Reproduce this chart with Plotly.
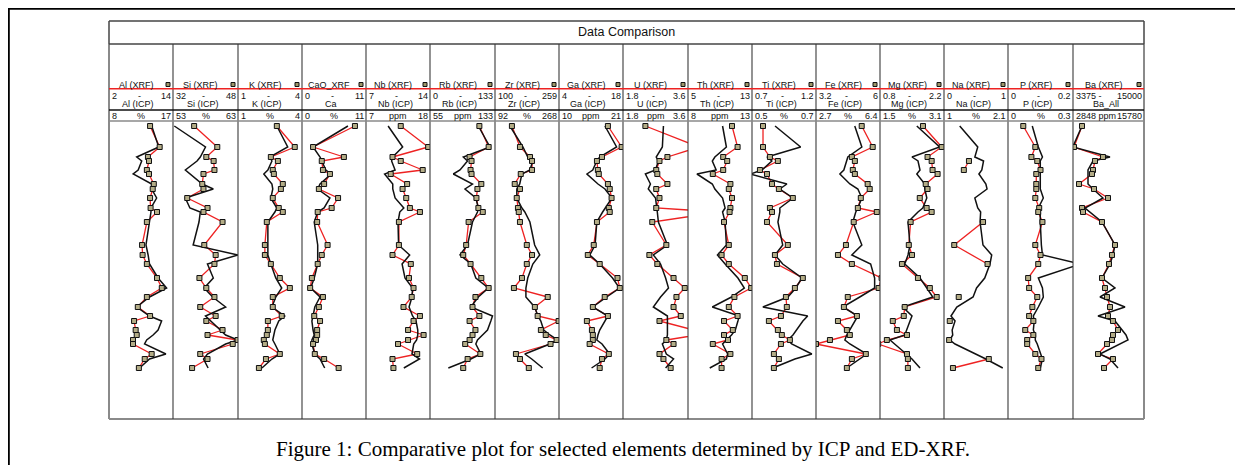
import plotly.graph_objects as go

# page body has an 8px margin; the figure is placed at (8, 8) in the window
OFF = 8
FW, FH = 1227, 457

# ---------------- data ----------------
depth = [5, 26, 36, 40, 49, 53, 63, 68, 77, 87, 91, 101, 124, 134, 143, 157, 167,
         176, 186, 195, 200, 209, 214, 219, 223, 233, 238, 247]

xrf_labels = ["Al (XRF)", "Si (XRF)", "K (XRF)", "CaO_XRF", "Nb (XRF)", "Rb (XRF)", "Zr (XRF)", "Ga (XRF)",
              "U (XRF)", "Th (XRF)", "Ti (XRF)", "Fe (XRF)", "Mg (XRF)", "Na (XRF)", "P (XRF)", "Ba (XRF)"]
icp_labels = ["Al (ICP)", "Si (ICP)", "K (ICP)", "Ca", "Nb (ICP)", "Rb (ICP)", "Zr (ICP)", "Ga (ICP)",
              "U (ICP)", "Th (ICP)", "Ti (ICP)", "Fe (ICP)", "Mg (ICP)", "Na (ICP)", "P (ICP)", "Ba_All"]
units = ["%", "%", "%", "%", "ppm", "ppm", "%", "ppm", "ppm", "ppm", "%", "%", "%", "%", "%", "ppm"]
xrf_min = [2, 32, 1, 0, 7, 0, 100, 4, 1.8, 5, 0.7, 3.2, 0.8, 0, 0, 3375]
xrf_max = [14, 48, 4, 11, 14, 133, 259, 18, 3.6, 13, 1.2, 6, 2.2, 1, 0.2, 15000]
icp_min = [8, 53, 1, 0, 7, 55, 92, 10, 1.8, 8, 0.5, 2.7, 1.5, 1, 0, 2848]
icp_max = [17, 63, 4, 11, 18, 133, 268, 21, 3.6, 13, 0.7, 6.4, 3.1, 2.1, 0.3, 15780]
xrf_min_txt = ["2", "32", "1", "0", "7", "0", "100", "4", "1.8", "5", "0.7", "3.2", "0.8", "0", "0", "3375 -"]
xrf_max_txt = ["14", "48", "4", "11", "14", "133", "259", "18", "3.6", "13", "1.2", "6", "2.2", "1", "0.2", "15000"]
icp_min_txt = ["8", "53", "1", "0", "7", "55", "92", "10", "1.8", "8", "0.5", "2.7", "1.5", "1", "0", "2848 ppm"]
icp_max_txt = ["17", "63", "4", "11", "18", "133", "268", "21", "3.6", "13", "0.7", "6.4", "3.1", "2.1", "0.3", "15780"]

al_xrf = [9.7, 11.5, 9.3, 9.5, 9.1, 9.5, 10.4, 10.2, 9.7, 9.8, 11.0, 9.1, 8.2, 8.3, 9.1, 11.0, 11.9, 9.1, 7.4, 9.7, 6.7, 7.0, 7.2, 6.5, 6.5, 10.0, 8.7, 7.6]
al_icp = [14.0, 15.0, 11.9, 12.6, 12.1, 11.4, 14.0, 14.0, 14.7, 13.9, 13.9, 13.7, 13.2, 13.5, 13.7, 14.9, 16.1, 13.7, 11.9, 13.7, 15.4, 14.9, 14.2, 13.3, 13.0, 16.0, 13.7, 12.3]
si_xrf = [37.2, 42.9, 40.2, 42.0, 42.2, 39.5, 39.2, 39.5, 35.5, 40.5, 39.5, 44.2, 39.7, 42.5, 42.2, 38.5, 40.2, 42.2, 38.7, 42.5, 40.2, 44.2, 40.5, 47.9, 46.7, 38.7, 40.5, 36.7]
si_icp = [53.2, 58.0, 57.2, 56.7, 54.9, 55.6, 57.5, 59.2, 54.9, 55.6, 57.2, 57.0, 56.1, 63.0, 58.3, 59.2, 57.8, 59.1, 61.1, 58.0, 58.8, 60.3, 61.1, 63.0, 61.1, 58.3, 57.7, 58.4]
k_xrf = [2.82, 3.66, 2.54, 2.87, 2.63, 2.68, 3.10, 3.01, 2.63, 2.91, 3.10, 2.35, 2.26, 2.26, 2.54, 2.96, 3.43, 2.63, 2.63, 3.05, 2.40, 2.40, 2.35, 2.21, 2.26, 2.96, 2.31, 1.98]
k_icp = [2.82, 3.33, 2.49, 2.59, 2.40, 2.21, 2.59, 2.63, 2.54, 2.82, 2.73, 2.40, 2.40, 2.40, 2.54, 2.77, 3.05, 2.77, 2.59, 3.19, 2.91, 2.73, 2.68, 2.63, 2.73, 2.96, 2.59, 2.12]
cao_xrf = [9.1, 1.9, 7.2, 3.4, 3.6, 4.8, 3.8, 2.9, 6.2, 5.1, 2.7, 2.6, 4.4, 3.4, 2.7, 1.7, 1.4, 3.6, 2.9, 2.1, 3.1, 2.6, 2.6, 2.4, 1.9, 2.2, 3.8, 6.3]
ca_icp = [7.9, 1.9, 3.1, 3.4, 4.1, 5.0, 3.1, 2.7, 4.8, 3.8, 2.7, 2.1, 2.7, 2.7, 2.7, 2.1, 1.5, 3.1, 2.2, 1.9, 1.7, 1.9, 2.1, 1.7, 1.7, 2.2, 3.1, 3.9]
nb_xrf = [10.8, 13.8, 9.9, 10.8, 13.2, 9.7, 11.5, 11.0, 11.4, 11.8, 12.9, 10.6, 10.6, 9.9, 11.9, 11.7, 12.2, 12.0, 11.1, 12.9, 12.2, 11.6, 13.3, 11.6, 10.5, 12.6, 9.9, 10.0]
nb_icp = [10.8, 13.3, 11.6, 11.4, 12.0, 10.2, 11.6, 11.6, 12.0, 13.5, 12.8, 12.5, 12.6, 14.5, 13.2, 13.7, 15.0, 14.9, 14.4, 15.0, 15.6, 15.9, 15.9, 15.7, 15.2, 14.9, 16.2, 13.5]
rb_xrf = [101, 120, 81, 85, 83, 85, 105, 97, 95, 99, 108, 79, 74, 68, 83, 105, 120, 93, 87, 101, 81, 93, 87, 81, 72, 103, 77, 68]
rb_icp = [113, 127, 95, 100, 91, 83, 106, 97, 110, 113, 112, 106, 100, 91, 104, 110, 125, 113, 104, 130, 128, 124, 118, 112, 110, 116, 104, 77]
zr_xrf = [142, 162, 187, 192, 192, 164, 149, 162, 154, 157, 159, 162, 179, 192, 179, 167, 147, 231, 199, 206, 258, 214, 226, 253, 238, 152, 162, 184]
zr_icp = [133, 169, 182, 196, 188, 166, 160, 152, 152, 166, 174, 188, 201, 215, 196, 182, 177, 177, 201, 210, 218, 226, 243, 264, 243, 174, 193, 223]
ga_xrf = [14.7, 17.7, 13.4, 12.3, 12.5, 12.7, 14.7, 15.1, 15.5, 14.9, 15.1, 12.3, 11.6, 10.3, 12.9, 16.8, 17.3, 14.0, 11.4, 14.7, 10.1, 11.2, 11.4, 11.4, 10.7, 14.9, 13.4, 12.9]
ga_icp = [17.9, 19.9, 17.0, 16.5, 15.8, 14.8, 16.7, 17.9, 19.1, 17.9, 17.5, 16.5, 16.2, 15.3, 17.0, 19.2, 20.4, 18.2, 15.8, 18.4, 17.9, 17.0, 16.7, 16.5, 17.4, 18.7, 17.9, 15.6]
u_xrf = [2.42, 3.9, 3.03, 2.81, 2.72, 2.75, 3.03, 2.72, 2.81, 2.72, 4.5, 2.61, 3.00, 2.53, 2.75, 3.20, 3.51, 3.28, 3.20, 3.40, 2.81, 3.76, 3.85, 3.00, 3.20, 2.81, 2.92, 3.12]
u_icp = [2.92, 2.89, 2.72, 2.78, 2.70, 2.42, 2.56, 2.50, 2.70, 2.75, 2.75, 2.78, 3.03, 2.64, 2.84, 2.98, 3.06, 2.84, 2.64, 3.03, 3.03, 3.03, 3.03, 3.00, 2.89, 3.00, 3.20, 2.98]
th_xrf = [10.5, 11.2, 9.4, 9.9, 9.4, 8.1, 10.3, 10.1, 10.5, 10.3, 10.2, 9.5, 10.1, 9.2, 10.1, 12.1, 12.9, 10.8, 10.1, 11.2, 9.5, 10.6, 9.5, 10.0, 8.1, 10.3, 9.2, 9.2]
th_icp = [10.7, 11.0, 10.1, 9.9, 10.2, 8.7, 9.9, 10.1, 10.7, 10.9, 10.7, 10.9, 11.0, 10.3, 10.9, 11.9, 12.4, 11.4, 9.9, 12.0, 11.9, 11.7, 11.4, 11.0, 10.7, 11.1, 11.0, 9.7]
ti_xrf = [0.786, 0.786, 0.840, 0.902, 0.762, 0.817, 0.856, 0.910, 1.019, 0.840, 0.856, 0.817, 0.980, 0.879, 0.895, 1.097, 1.035, 0.965, 0.972, 0.926, 0.832, 0.902, 0.933, 0.996, 0.926, 0.871, 0.910, 0.871]
ti_icp = [0.572, 0.652, 0.547, 0.562, 0.531, 0.495, 0.609, 0.587, 0.628, 0.587, 0.587, 0.581, 0.596, 0.572, 0.596, 0.656, 0.637, 0.612, 0.534, 0.674, 0.659, 0.640, 0.628, 0.612, 0.624, 0.687, 0.634, 0.565]
fe_xrf = [5.20, 5.68, 4.77, 4.90, 4.81, 4.90, 5.46, 5.55, 5.16, 5.03, 5.86, 4.85, 4.51, 4.16, 4.77, 6.07, 5.94, 4.59, 4.42, 4.99, 4.16, 4.55, 4.68, 3.81, 3.20, 5.38, 4.77, 4.55]
fe_icp = [4.94, 5.35, 4.54, 4.48, 4.31, 4.08, 4.66, 5.12, 5.35, 5.12, 5.00, 4.83, 5.35, 4.77, 5.86, 6.09, 6.09, 5.23, 4.25, 5.12, 4.94, 4.66, 4.48, 4.37, 4.66, 5.63, 5.23, 4.48]
mg_xrf = [1.74, 2.15, 1.84, 1.93, 1.95, 2.06, 1.80, 1.84, 1.67, 1.82, 1.93, 1.47, 1.43, 1.50, 1.28, 1.63, 1.89, 2.04, 1.34, 1.32, 1.08, 1.17, 1.39, 0.95, 0.76, 1.39, 1.41, 1.41]
mg_icp = [2.42, 2.99, 2.30, 2.45, 2.50, 2.42, 2.62, 2.62, 2.67, 2.57, 2.45, 2.20, 2.25, 2.20, 2.12, 2.50, 2.67, 2.82, 2.07, 2.30, 2.25, 2.17, 2.12, 1.75, 1.87, 2.17, 2.30, 2.50]
na_xrf_depth = [40, 49, None, 101, 124, 143, None, 176, None, 200, None, 219, None, 238, 247]
na_xrf = [0.39, 0.31, None, 0.61, 0.16, 0.68, None, 0.23, None, 0.09, None, 0.08, None, 0.70, 0.14]
na_icp = [1.27, 1.58, 1.53, 1.68, 1.65, 1.60, 1.72, 1.74, 1.53, 1.58, 1.63, 1.62, 1.67, 1.82, 1.79, 1.70, 1.56, 1.50, 1.22, 1.12, 1.19, 1.14, 1.15, 1.10, 1.19, 1.56, 1.72, 2.01]
p_xrf = [0.047, 0.084, 0.072, 0.090, 0.100, 0.087, 0.087, 0.087, 0.084, 0.096, 0.093, 0.106, 0.084, 0.100, 0.093, 0.062, 0.065, 0.090, 0.075, 0.065, 0.078, 0.053, 0.078, 0.059, 0.059, 0.084, 0.103, 0.093]
p_icp = [0.112, 0.140, 0.159, 0.149, 0.149, 0.149, 0.149, 0.149, 0.163, 0.140, 0.149, 0.149, 0.154, 0.159, 0.336, 0.140, 0.159, 0.163, 0.140, 0.117, 0.121, 0.117, 0.126, 0.126, 0.135, 0.149, 0.159, 0.149]
ba_xrf = [4848, 3539, 8286, 6976, 6649, 6485, 4357, 6813, 9105, 4848, 5012, 8122, 10250, 9759, 9268, 8122, 8613, 8941, 9432, 9105, 9923, 10742, 9923, 9759, 8941, 7468, 9923, 8450]
ba_icp = [4487, 2800, 9586, 6490, 5580, 5580, 5580, 6490, 8311, 5033, 5944, 8129, 10496, 10132, 9586, 8129, 10496, 7765, 12317, 7400, 10496, 11771, 12499, 12864, 11407, 7765, 9586, 11043]

xrf_values = [al_xrf, si_xrf, k_xrf, cao_xrf, nb_xrf, rb_xrf, zr_xrf, ga_xrf, u_xrf, th_xrf,
              ti_xrf, fe_xrf, mg_xrf, na_xrf, p_xrf, ba_xrf]
icp_values = [al_icp, si_icp, k_icp, ca_icp, nb_icp, rb_icp, zr_icp, ga_icp, u_icp, th_icp,
              ti_icp, fe_icp, mg_icp, na_icp, p_icp, ba_icp]
xrf_depths = [depth] * 13 + [na_xrf_depth] + [depth] * 2

# ---------------- layout helpers (window pixel positions) ----------------
edges = [109, 173, 238, 302, 366, 430, 495, 559, 623, 688, 752, 816, 880, 944, 1008, 1073, 1144]
PLOT_TOP, PLOT_BOT = 121, 419


def fx(px):
    return (px - OFF) / FW


def fy(py):
    return 1 - (py - OFF) / FH


def axname(k):
    return "x" if k == 1 else f"x{k}"


def axkey(k):
    return "xaxis" if k == 1 else f"xaxis{k}"


RED = "#ee2222"
BLK = "#111111"
SQ_FILL = "#b3ac86"
FONT = "Liberation Sans, Arial, sans-serif"

fig = go.Figure()
layout_axes = {}

for i in range(16):
    b = 3 * i + 1
    L, R = edges[i], edges[i + 1]
    fig.add_trace(go.Scatter(x=xrf_values[i], y=xrf_depths[i], xaxis=axname(b), yaxis="y",
                             mode="lines", line=dict(color=RED, width=1.3),
                             connectgaps=False, showlegend=False, hoverinfo="skip"))
    fig.add_trace(go.Scatter(x=icp_values[i], y=depth, xaxis=axname(b + 1), yaxis="y",
                             mode="lines", line=dict(color=BLK, width=1.5),
                             showlegend=False, hoverinfo="skip"))
    fig.add_trace(go.Scatter(x=xrf_values[i], y=xrf_depths[i], xaxis=axname(b + 2), yaxis="y",
                             mode="markers",
                             marker=dict(symbol="square", size=5, color=SQ_FILL,
                                         line=dict(color="#111111", width=1)),
                             showlegend=False, hoverinfo="skip"))
    layout_axes[axkey(b)] = dict(domain=[fx(L), fx(R)], range=[xrf_min[i], xrf_max[i]],
                                 visible=False, anchor="y", fixedrange=True)
    layout_axes[axkey(b + 1)] = dict(range=[icp_min[i], icp_max[i]], overlaying=axname(b),
                                     visible=False, anchor="y", fixedrange=True)
    layout_axes[axkey(b + 2)] = dict(range=[xrf_min[i], xrf_max[i]], overlaying=axname(b),
                                     visible=False, anchor="y", fixedrange=True)

shapes = []


def hline(py, x0, x1, color, width):
    shapes.append(dict(type="line", xref="paper", yref="paper", x0=fx(x0), x1=fx(x1),
                       y0=fy(py), y1=fy(py), line=dict(color=color, width=width)))


def vline(px, y0, y1, color, width):
    shapes.append(dict(type="line", xref="paper", yref="paper", x0=fx(px), x1=fx(px),
                       y0=fy(y0), y1=fy(y1), line=dict(color=color, width=width)))


# outer frame (top and left edges are the visible ones)
hline(OFF + 0.6, OFF, OFF + FW + 2, "#000000", 2.4)
vline(OFF + 0.6, OFF, OFF + FH + 2, "#000000", 2.4)

# panel
hline(PLOT_BOT, edges[0], edges[-1], "#8a8a8a", 2)
vline(edges[0], 44, PLOT_BOT, "#8a8a8a", 2)
vline(edges[-1], 44, PLOT_BOT, "#8a8a8a", 2)
# title box
hline(21, edges[0], edges[-1], "#444444", 1.5)
hline(44, edges[0], edges[-1], "#444444", 1.5)
vline(edges[0], 21, 44, "#444444", 1.5)
vline(edges[-1], 21, 44, "#444444", 1.5)
# column dividers
for e in edges[1:-1]:
    vline(e, 44, PLOT_BOT, "#3a3a3a", 1.1)
# legend lines
hline(88.7, edges[0], edges[-1], RED, 1.5)
hline(110, edges[0], edges[-1], BLK, 1.6)
hline(PLOT_TOP, edges[0], edges[-1], "#8a8a8a", 1.5)

annotations = []


def text(s, px, py, size=9, anchor="center", family=FONT, color="#111111"):
    annotations.append(dict(text=s, x=fx(px), y=fy(py), xref="paper", yref="paper",
                            xanchor=anchor, yanchor="middle", showarrow=False,
                            font=dict(family=family, size=size, color=color)))


for i in range(16):
    L, R = edges[i], edges[i + 1]
    C = (L + R) / 2
    shapes.append(dict(type="rect", xref="paper", yref="paper",
                       x0=fx(R - 7), x1=fx(R - 3), y0=fy(86.5), y1=fy(82.5),
                       fillcolor="#9d9668", line=dict(color="#111111", width=1)))
    text(xrf_labels[i], C - 5, 84.5)
    text(xrf_min_txt[i], L + 1, 96, anchor="left")
    if i < 15:
        text("-", C - 2, 96)
    text(xrf_max_txt[i], R, 96, anchor="right")
    text(icp_labels[i], C - 3, 104.3)
    text(icp_min_txt[i], L + 1, 115.5, anchor="left")
    if i < 15:
        text(units[i], C, 115.5)
    text(icp_max_txt[i], R, 115.5, anchor="right")

text("Data Comparison", (edges[0] + edges[-1]) / 2, 32.5, size=12.5)
text("Figure 1: Comparative plot for selected elements determined by ICP and ED-XRF.",
     623, 449, size=21, family="Liberation Serif, Times New Roman, serif", color="#000000")

fig.update_layout(
    width=FW, height=FH,
    margin=dict(l=0, r=0, t=0, b=0),
    paper_bgcolor="white",
    plot_bgcolor="rgba(0,0,0,0)",
    showlegend=False,
    yaxis=dict(domain=[fy(PLOT_BOT), fy(PLOT_TOP)], range=[298, 0], visible=False,
               fixedrange=True),
    shapes=shapes,
    annotations=annotations,
    **layout_axes,
)

fig.write_html("out.html")
